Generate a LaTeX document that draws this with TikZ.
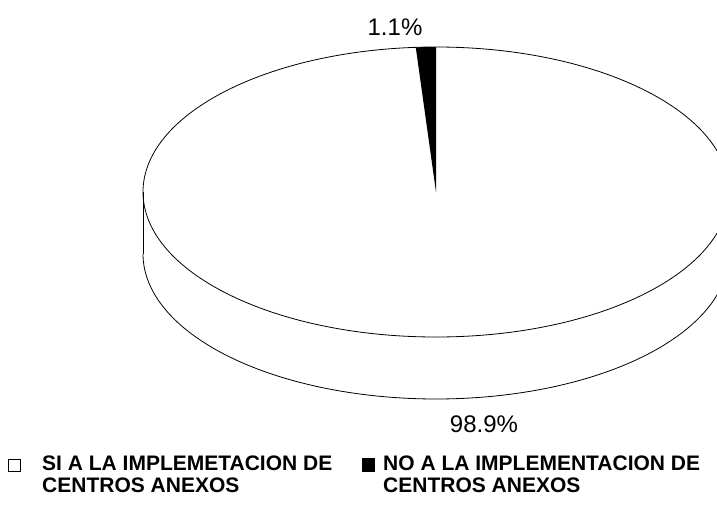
\documentclass[tikz,border=0pt]{standalone}
\usepackage{fontspec}
\setmainfont{Liberation Sans}
\begin{document}
\begin{tikzpicture}[x=1pt,y=-1pt,
  rim/.style={line width=0.8pt,black},
  pct/.style={inner sep=0pt,font=\fontsize{24}{26}\selectfont},
  legtxt/.style={inner sep=0pt,anchor=north west,align=left,font=\fontsize{21}{22}\bfseries\selectfont}]
\useasboundingbox (0,0) rectangle (717,506);
\clip (0,0) rectangle (717,506);
\fill[white] (0,0) rectangle (717,506);
\coordinate (c) at (436,192);
\coordinate (l) at (143,192);
\coordinate (lb) at (143,254);
% wedge 1.1%
\fill[black] (c) -- plot[domain=-93.96:-90,samples=20] ({436+293*cos(\x)},{192+145*sin(\x)}) -- cycle;
% top ellipse
\draw[rim] (c) ellipse [x radius=293, y radius=145];
% side
\draw[rim] (l) -- (lb);
\draw[rim] plot[domain=0:180,samples=120] ({436+293*cos(\x)},{254+145*sin(\x)});
% labels
\node[pct] (p1) at (395,27) {1.1\%};
\node[pct] (p2) at (484,424) {98.9\%};
% legend
\draw[line width=0.8pt] (8,459) rectangle (20,471);
\node (k1) at (14,465) {};
\fill[black] (362,458) rectangle (375,472);
\node (k2) at (368,465) {};
\node[legtxt] (t1) at (42,456) {SI A LA IMPLEMETACION DE\\CENTROS ANEXOS};
\node[legtxt] (t2) at (383,456) {NO A LA IMPLEMENTACION DE\\CENTROS ANEXOS};
\end{tikzpicture}
\end{document}
